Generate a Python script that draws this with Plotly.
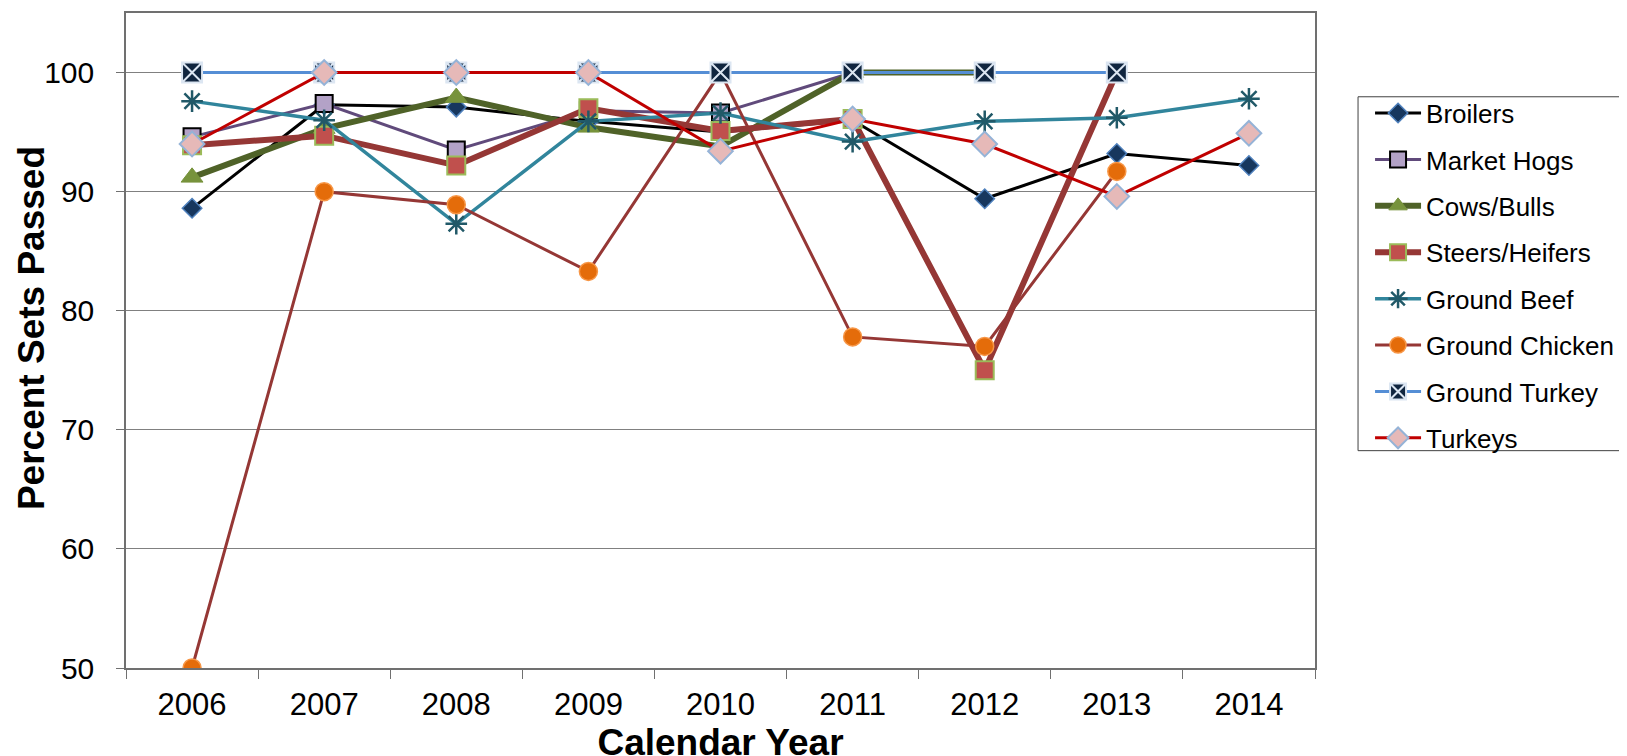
import plotly.graph_objects as go

years = ["2006", "2007", "2008", "2009", "2010", "2011", "2012", "2013", "2014"]

broilers = [88.6, 97.3, 97.1, 95.9, 95.0, 96.0, 89.4, 93.2, 92.2]
market_hogs = [94.6, 97.4, 93.5, 96.8, 96.6, 100, 100, None, None]
cows_bulls = [91.2, 95.3, 97.9, 95.4, 93.8, 100, 100, None, None]
steers_heifers = [93.9, 94.7, 92.2, 97.0, 95.1, 96.1, 75.0, 100, None]
ground_beef = [97.6, 96.0, 87.3, 95.9, 96.6, 94.2, 95.9, 96.2, 97.8]
ground_chicken = [50.0, 90.0, 88.9, 83.3, 100, 77.8, 77.0, 91.7, None]
ground_turkey = [100, 100, 100, 100, 100, 100, 100, 100, None]
turkeys = [94.0, 100, 100, 100, 93.4, 96.1, 94.0, 89.6, 94.9]

series = [
    ("Broilers", broilers, dict(color="#000000", width=3),
     dict(symbol="diamond", size=15, color="#17375E", line=dict(color="#4F81BD", width=1.5))),
    ("Market Hogs", market_hogs, dict(color="#604A7B", width=3),
     dict(symbol="square", size=17, color="#B3A2C7", line=dict(color="#000000", width=2))),
    ("Cows/Bulls", cows_bulls, dict(color="#4F6228", width=6),
     dict(symbol="triangle-up", size=19, color="#77933C", line=dict(color="#77933C", width=1))),
    ("Steers/Heifers", steers_heifers, dict(color="#953735", width=6),
     dict(symbol="square", size=18, color="#C0504D", line=dict(color="#9BBB59", width=2))),
    ("Ground Beef", ground_beef, dict(color="#31859C", width=3.5),
     dict(symbol="asterisk-open", size=18, color="#215968", line=dict(color="#215968", width=2.5))),
    ("Ground Chicken", ground_chicken, dict(color="#953735", width=3),
     dict(symbol="circle", size=18, color="#E46C0A", line=dict(color="#F79646", width=1.5))),
    ("Ground Turkey", ground_turkey, dict(color="#558ED5", width=3),
     dict(symbol="square-x", size=20, color="#10253F", line=dict(color="#DCE6F2", width=2))),
    ("Turkeys", turkeys, dict(color="#C00000", width=3),
     dict(symbol="diamond", size=19, color="#E6B9B8", line=dict(color="#95B3D7", width=2))),
]

fig = go.Figure()
for i, (name, vals, line, marker) in enumerate(series):
    fig.add_trace(go.Scatter(
        x=years, y=vals, name=name, mode="lines+markers",
        line=line, marker=marker, legendgroup=f"g{i}",
        connectgaps=False,
    ))

font_family = "Liberation Sans, Arial, sans-serif"

fig.update_layout(
    width=1627, height=756,
    margin=dict(l=118, r=320, t=3, b=96),
    paper_bgcolor="white", plot_bgcolor="white",
    font=dict(family=font_family, color="#000000"),
    showlegend=True,
    legend=dict(
        x=1.0463, y=0.883, xanchor="left", yanchor="top",
        font=dict(size=26, family=font_family, color="#000000"),
        borderwidth=0, bgcolor="rgba(0,0,0,0)",
        tracegroupgap=9.6, itemwidth=46,
    ),
    xaxis=dict(
        type="category", range=[-0.5, 8.5],
        tickson="boundaries", ticks="outside", ticklen=9, tickcolor="#707070",
        showline=True, linecolor="#707070", linewidth=1.5, mirror=True,
        showgrid=False, ticklabelstandoff=8,
        tickfont=dict(size=31, family=font_family),
        title=dict(text="<b>Calendar Year</b>", font=dict(size=37, family=font_family), standoff=0),
    ),
    yaxis=dict(
        range=[50, 105], dtick=10, tick0=50,
        ticks="outside", ticklen=8, tickcolor="#707070",
        showline=True, linecolor="#707070", linewidth=1.5, mirror=True,
        showgrid=True, gridcolor="#808080", gridwidth=1,
        zeroline=False, ticklabelstandoff=16,
        tickfont=dict(size=30, family=font_family),
    ),
    shapes=[dict(
        type="rect", xref="paper", yref="paper",
        x0=1.0362, x1=1.2599, y0=0.3318, y1=0.8721,
        line=dict(color="#404040", width=1), fillcolor="rgba(0,0,0,0)",
    )],
    annotations=[dict(
        text="<b>Percent Sets Passed</b>", xref="paper", yref="paper",
        x=-0.0799, y=0.519, xanchor="center", yanchor="middle",
        textangle=-90, showarrow=False,
        font=dict(size=37, family=font_family, color="#000000"),
    )],
)

fig.write_html("out.html")
